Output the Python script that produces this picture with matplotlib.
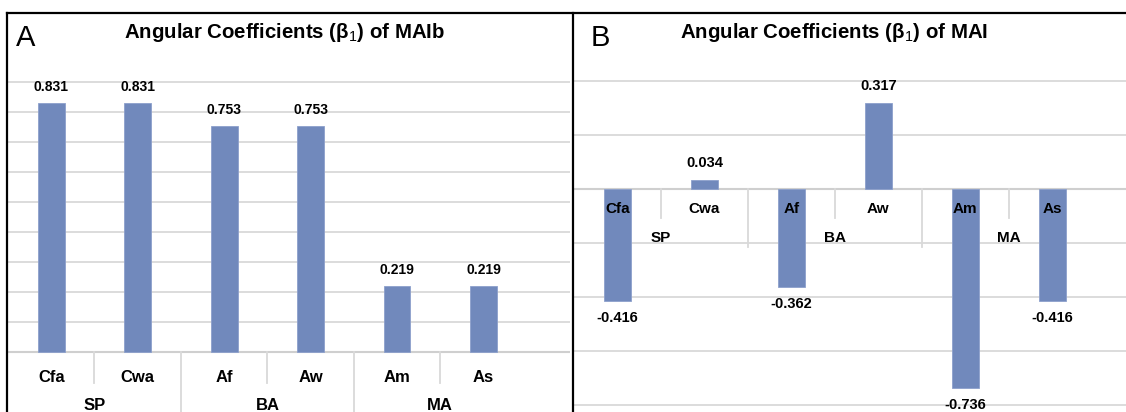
import matplotlib
matplotlib.use("Agg")
import matplotlib.pyplot as plt
from matplotlib.lines import Line2D

# ---- data ----
categories = ["Cfa", "Cwa", "Af", "Aw", "Am", "As"]
groups = ["SP", "BA", "MA"]
maib_values = [0.831, 0.831, 0.753, 0.753, 0.219, 0.219]
mai_values = [-0.416, 0.034, -0.362, 0.317, -0.736, -0.416]
gridA = [0.1, 0.2, 0.3, 0.4, 0.5, 0.6, 0.7, 0.8, 0.9]
gridB = [0.4, 0.2, -0.2, -0.4, -0.6, -0.8]

plt.rcParams["font.family"] = ["Liberation Sans", "DejaVu Sans"]
plt.rcParams["mathtext.fontset"] = "custom"
plt.rcParams["mathtext.rm"] = "Liberation Sans"
plt.rcParams["mathtext.bf"] = "Liberation Sans:bold"

W, H = 1126, 412
fig = plt.figure(figsize=(W / 100, H / 100), dpi=100)

BAR = "#7189bc"
GRID = "#d9d9d9"


def fx(px):
    return px / W


def fy(py):
    return 1 - py / H


def make_panel(rect_px, xlim, ylim, values, grid, cat_y, grp_y, cat_sep_end, grp_sep_end,
               off_px, lab_fs, val_fs):
    l, t, r, b = rect_px
    ax = fig.add_axes([fx(l), fy(b), fx(r - l), fy(t) - fy(b)])
    ax.set_xlim(*xlim)
    ax.set_ylim(*ylim)
    ax.axis("off")
    for g in grid:
        ax.axhline(g, color=GRID, lw=1.3, zorder=1)
    ax.axhline(0, color="#cfcfcf", lw=1.5, zorder=1)
    x = list(range(len(categories)))
    ax.bar(x, values, width=0.31, color=BAR, edgecolor="#8da0cc", lw=0.6, zorder=2)
    # separators
    for i in range(1, len(categories)):
        pos = i - 0.5
        end = grp_sep_end if i % 2 == 0 else cat_sep_end
        ax.plot([pos, pos], [0, end], color=GRID, lw=1.3, zorder=1, clip_on=False)
    for i, c in enumerate(categories):
        ax.text(i, cat_y, c, ha="center", va="center", fontsize=lab_fs, fontweight="bold", zorder=4)
    for j, g in enumerate(groups):
        ax.text(2 * j + 0.5, grp_y, g, ha="center", va="center", fontsize=lab_fs, fontweight="bold", zorder=4)
    for i, v in enumerate(values):
        sgn = 1 if v >= 0 else -1
        ax.annotate(f"{v:.3f}", (i, v), xytext=(0, sgn * off_px * 0.72), textcoords="offset points",
                    ha="center", va="center", fontsize=val_fs, fontweight="bold", zorder=4)
    return ax


# Panel A: x: cat center 51 + 86.5*i ; y: 0 at 352, 300 px/unit
axA = make_panel((8, 52, 570, 412), (-0.5, 6.0), (-(412 - 352) / 300, (352 - 52) / 300),
                 maib_values, gridA, -26 / 300, -53 / 300, -31 / 300, -1.0, 16, 12, 10)
# Panel B: cat center 617 + 87*i ; y: 0 at 189, 270 px/unit
axB = make_panel((574, 52, 1126, 412), (-0.5, (1126 - 617) / 87), (-(412 - 189) / 270, (189 - 52) / 270),
                 mai_values, gridB, -20 / 270, -49 / 270, -29 / 270, -58 / 270, 17, 11, 10.5)

# titles
fig.text(fx(285), fy(33), "Angular Coefficients (β$_1$) of MAIb", ha="center", va="center",
         fontsize=14.7, fontweight="bold")
fig.text(fx(834), fy(33), "Angular Coefficients (β$_1$) of MAI", ha="center", va="center",
         fontsize=14.7, fontweight="bold")
fig.text(fx(16), fy(38), "A", ha="left", va="center", fontsize=21)
fig.text(fx(591), fy(38), "B", ha="left", va="center", fontsize=21)

# borders
for (x0, y0, x1, y1) in [(7, 13, W, 13), (7, 13, 7, H), (573, 13, 573, H)]:
    fig.add_artist(Line2D([fx(x0), fx(x1)], [fy(y0), fy(y1)], color="black", lw=1.6))

fig.savefig("out.png", dpi=100)
